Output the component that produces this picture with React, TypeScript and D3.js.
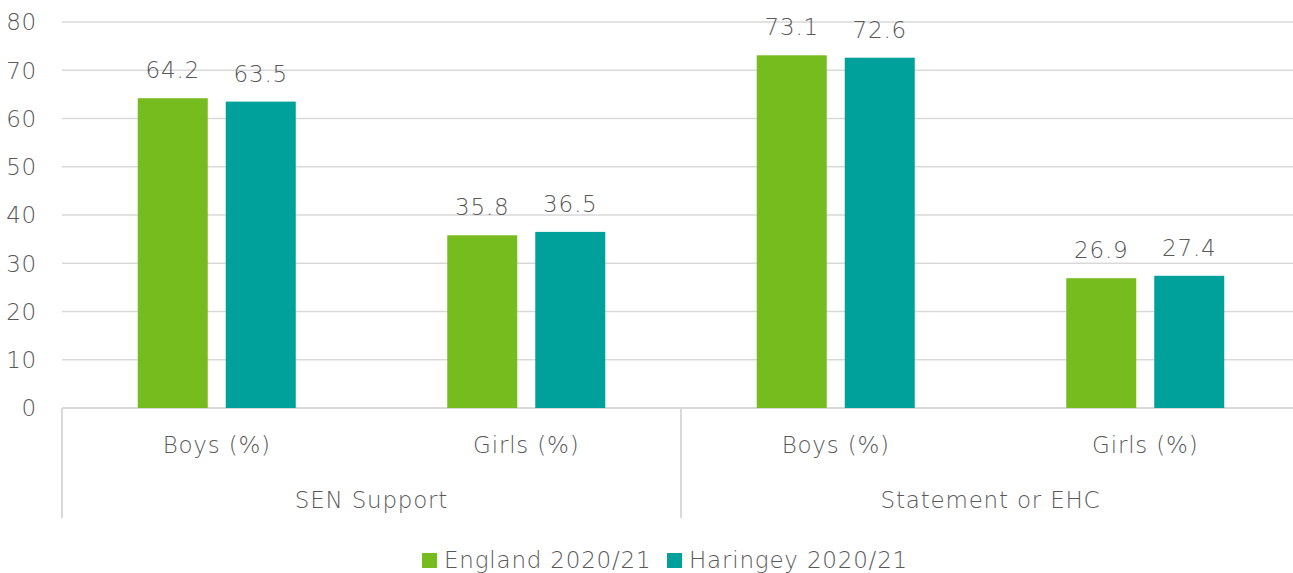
import React from "react";
import * as d3 from "d3";

const groups = ["SEN Support", "Statement or EHC"];
const categories = ["Boys (%)", "Girls (%)", "Boys (%)", "Girls (%)"];
const seriesNames = ["England 2020/21", "Haringey 2020/21"];
const england = [64.2, 35.8, 73.1, 26.9];
const haringey = [63.5, 36.5, 72.6, 27.4];
const yTicks = [0, 10, 20, 30, 40, 50, 60, 70, 80];

const colors = ["#77BC1F", "#00A19A"];
const textColor = "#595959";
const gridColor = "#D9D9D9";
const font = "'DejaVu Sans', sans-serif";
const fs = 23;
const ls = 0.8;

const App: React.FC = () => {
  const width = 1293;
  const height = 573;
  const margin = { top: 22, left: 62, bottom: 408 };
  const plotRight = 1300;

  const x = d3
    .scaleBand<number>()
    .domain(d3.range(categories.length))
    .range([margin.left, plotRight]);
  const y = d3.scaleLinear().domain([0, 80]).range([margin.bottom, margin.top]);

  const barW = 70;
  const gap = 18;
  const series = [england, haringey];

  const groupX = d3
    .scaleBand<number>()
    .domain(d3.range(groups.length))
    .range([margin.left, plotRight]);

  return (
    <svg
      width={width}
      height={height}
      style={{ position: "absolute", left: 0, top: 0, background: "#fff" }}
      fontFamily={font}
      fontWeight={200}
      letterSpacing={ls}
    >
      {yTicks.map((t) => (
        <g key={t}>
          <line
            x1={margin.left}
            x2={plotRight}
            y1={y(t)}
            y2={y(t)}
            stroke={gridColor}
            strokeWidth={t === 0 ? 2 : 1.5}
          />
          <text
            x={37}
            y={y(t)}
            dy="0.36em"
            textAnchor="end"
            fontSize={fs}
            fill={textColor}
          >
            {t}
          </text>
        </g>
      ))}

      {series.map((vals, si) =>
        vals.map((v, ci) => {
          const cx = (x(ci) || 0) + x.bandwidth() / 2;
          const bx = si === 0 ? cx - gap / 2 - barW : cx + gap / 2;
          return (
            <g key={`${si}-${ci}`}>
              <rect
                x={bx}
                y={y(v)}
                width={barW}
                height={y(0) - y(v)}
                fill={colors[si]}
              />
              <text
                x={bx + barW / 2}
                y={y(v) - 20}
                textAnchor="middle"
                fontSize={fs}
                fill={textColor}
              >
                {v.toFixed(1)}
              </text>
            </g>
          );
        })
      )}

      {categories.map((c, ci) => (
        <text
          key={ci}
          x={(x(ci) || 0) + x.bandwidth() / 2}
          y={453}
          textAnchor="middle"
          fontSize={fs}
          fill={textColor}
        >
          {c}
        </text>
      ))}

      {groups.map((g, gi) => (
        <g key={g}>
          <line
            x1={groupX(gi) || 0}
            x2={groupX(gi) || 0}
            y1={y(0)}
            y2={518}
            stroke={gridColor}
            strokeWidth={2}
          />
          <text
            x={(groupX(gi) || 0) + groupX.bandwidth() / 2}
            y={508}
            textAnchor="middle"
            fontSize={fs}
            fill={textColor}
          >
            {g}
          </text>
        </g>
      ))}

      {seriesNames.map((s, si) => {
        const lx = si === 0 ? 422 : 667;
        return (
          <g key={s}>
            <rect x={lx} y={553} width={15} height={15} fill={colors[si]} />
            <text x={lx + 22} y={568} fontSize={fs} fill={textColor}>
              {s}
            </text>
          </g>
        );
      })}
    </svg>
  );
};

export default App;
